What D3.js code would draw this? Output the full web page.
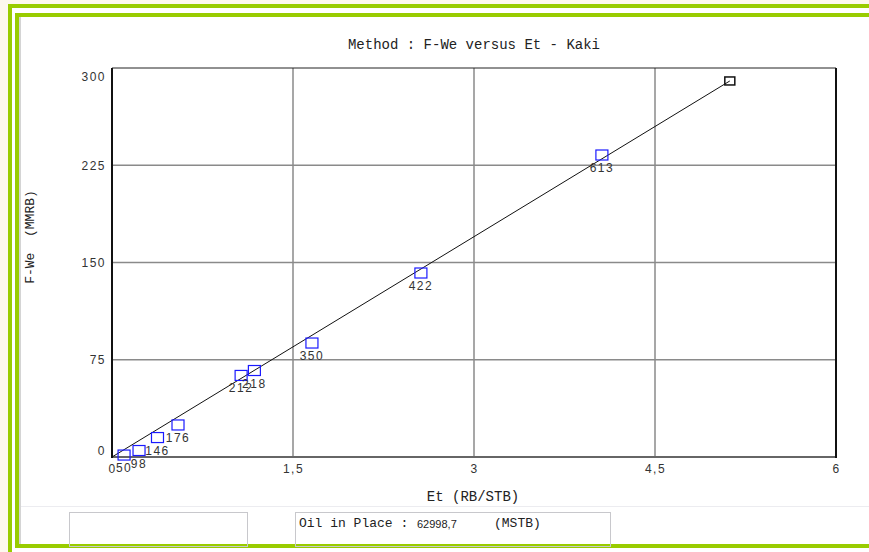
<!DOCTYPE html>
<html><head><meta charset="utf-8">
<script src="https://cdn.jsdelivr.net/npm/d3@7/dist/d3.min.js"></script>
<style>
body{margin:0;background:#fff;}
svg{display:block;}
</style></head>
<body>
<svg id="c" width="869" height="552"></svg>
<script>
// Data
const pointLabels = ["50", "98", "146", "176", "212", "218", "350", "422", "613"];
const etValues   = [0.10, 0.224, 0.377, 0.547, 1.07, 1.18, 1.657, 2.56, 4.06];
const fweValues  = [1.5, 5, 15, 24.7, 62.9, 66.7, 87.9, 141.9, 232.9];
const lastEt = [5.12];
const lastFwe = [290];
const lineEt = [0, 5.12];
const lineFwe = [0, 290];
const xTicks = [0, 1.5, 3, 4.5, 6];
const xTickLabels = ["0", "1,5", "3", "4,5", "6"];
const yTicks = [0, 75, 150, 225, 300];
const yTickLabels = ["0", "75", "150", "225", "300"];
const titleText = "Method : F-We versus Et - Kaki";
const xTitle = "Et (RB/STB)";
const yTitle = "F-We  (MMRB)";
const oipLabel = "Oil in Place :";
const oipValue = "62998,7";
const oipUnit = "(MSTB)";

const svg = d3.select("#c");
const mono = "'Liberation Mono','DejaVu Sans Mono',monospace";
const sans = "'Liberation Sans','DejaVu Sans',sans-serif";

// background / frame
svg.append("rect").attr("x",0).attr("y",0).attr("width",869).attr("height",552).attr("fill","#fdf8ee");
svg.append("rect").attr("x",12).attr("y",8).attr("width",857).attr("height",544).attr("fill","#ffffff");
svg.append("rect").attr("x",8).attr("y",4).attr("width",861).attr("height",4).attr("fill","#99cc00");
svg.append("rect").attr("x",8).attr("y",4).attr("width",4).attr("height",548).attr("fill","#99cc00");
svg.append("rect").attr("x",15).attr("y",13).attr("width",854).attr("height",4).attr("fill","#99cc00");
svg.append("rect").attr("x",15).attr("y",13).attr("width",4).attr("height",535).attr("fill","#99cc00");
svg.append("rect").attr("x",15).attr("y",544).attr("width",854).attr("height",4).attr("fill","#99cc00");
svg.append("rect").attr("x",19).attr("y",17).attr("width",2).attr("height",527).attr("fill","#d4d4d4");
svg.append("line").attr("x1",21).attr("x2",869).attr("y1",506.5).attr("y2",506.5).attr("stroke","#ececf0");
svg.append("rect").attr("x",69.5).attr("y",512.5).attr("width",178).attr("height",34).attr("fill","none").attr("stroke","#c8c8cc");
svg.append("rect").attr("x",295.5).attr("y",512.5).attr("width",315).attr("height",34).attr("fill","none").attr("stroke","#c8c8cc");

// scales
const x = d3.scaleLinear().domain([0,6]).range([112,836]);
const y = d3.scaleLinear().domain([0,300]).range([457,68]);

const g = svg.append("g");
g.selectAll(".vg").data(xTicks.slice(1,-1)).enter().append("line")
 .attr("x1",d=>x(d)).attr("x2",d=>x(d)).attr("y1",y(300)).attr("y2",y(0))
 .attr("stroke","#8a8a8a").attr("stroke-width",1.5);
g.selectAll(".hg").data(yTicks.slice(1,-1)).enter().append("line")
 .attr("x1",x(0)).attr("x2",x(6)).attr("y1",d=>y(d)).attr("y2",d=>y(d))
 .attr("stroke","#8a8a8a").attr("stroke-width",1.5);
g.append("line").attr("x1",x(0)).attr("x2",x(6)).attr("y1",y(300)).attr("y2",y(300)).attr("stroke","#222").attr("stroke-width",1);
g.append("line").attr("x1",x(0)).attr("x2",x(6)).attr("y1",y(0)).attr("y2",y(0)).attr("stroke","#666").attr("stroke-width",2);
g.append("line").attr("x1",x(0)).attr("x2",x(0)).attr("y1",y(300)).attr("y2",y(0)+1).attr("stroke","#111").attr("stroke-width",2);
g.append("line").attr("x1",x(6)).attr("x2",x(6)).attr("y1",y(300)).attr("y2",y(0)+1).attr("stroke","#111").attr("stroke-width",2);

// axes labels
const xAxis = d3.axisBottom(x).tickValues(xTicks).tickFormat((d,i)=>xTickLabels[i]).tickSize(0).tickPadding(6);
const xa = svg.append("g").attr("transform",`translate(0,${y(0)+1})`).call(xAxis);
xa.select(".domain").remove();
xa.selectAll("text").attr("font-family",sans).attr("font-size",12).attr("fill","#333").style("letter-spacing","1.5px");
const yAxis = d3.axisLeft(y).tickValues(yTicks).tickFormat((d,i)=>yTickLabels[i]).tickSize(0).tickPadding(6);
const ya = svg.append("g").attr("transform",`translate(${x(0)},0)`).call(yAxis);
ya.select(".domain").remove();
ya.selectAll("text").attr("font-family",sans).attr("font-size",12).attr("fill","#333").style("letter-spacing","1.5px")
 .attr("dy",d=> d===300 ? "1.0em" : (d===0 ? "-0.2em" : "0.32em"));

// fitted line
const line = d3.line().x(d=>x(d[0])).y(d=>y(d[1]));
svg.append("path").datum(lineEt.map((e,i)=>[e,lineFwe[i]])).attr("d",line)
 .attr("fill","none").attr("stroke","#111").attr("stroke-width",1);

// points
const pts = pointLabels.map((l,i)=>({l, e:etValues[i], f:fweValues[i]}));
svg.selectAll(".pt").data(pts).enter().append("rect")
 .attr("x",d=>x(d.e)-6).attr("y",d=>y(d.f)-5).attr("width",12).attr("height",10)
 .attr("fill","none").attr("stroke","#1a1aff").attr("stroke-width",1.2);
svg.selectAll(".pl").data(pts).enter().append("text")
 .attr("x",d=>x(d.e)).attr("y",d=>y(d.f)+17).attr("text-anchor","middle")
 .attr("font-family",sans).attr("font-size",12).attr("fill","#333").style("letter-spacing","1.5px")
 .text(d=>d.l);
svg.selectAll(".lp").data(lastEt.map((e,i)=>({e,f:lastFwe[i]}))).enter().append("rect")
 .attr("x",d=>x(d.e)-5).attr("y",d=>y(d.f)-4).attr("width",10).attr("height",8)
 .attr("fill","none").attr("stroke","#111").attr("stroke-width",1.5);

// titles
svg.append("text").attr("x",474).attr("y",49).attr("text-anchor","middle")
 .attr("font-family",mono).attr("font-size",14).attr("fill","#222").text(titleText);
svg.append("text").attr("x",473).attr("y",501).attr("text-anchor","middle")
 .attr("font-family",mono).attr("font-size",14).attr("fill","#222").text(xTitle);
svg.append("text").attr("transform","translate(34,237) rotate(-90)").attr("text-anchor","middle")
 .attr("font-family",mono).attr("font-size",13).attr("fill","#222").attr("xml:space","preserve").text(yTitle);

// oil in place
svg.append("text").attr("x",299).attr("y",527).attr("font-family",mono).attr("font-size",13).attr("fill","#222").text(oipLabel);
svg.append("text").attr("x",417).attr("y",528).attr("font-family",sans).attr("font-size",11).attr("fill","#222").text(oipValue);
svg.append("text").attr("x",494).attr("y",527).attr("font-family",mono).attr("font-size",13).attr("fill","#222").text(oipUnit);
</script>
</body></html>
